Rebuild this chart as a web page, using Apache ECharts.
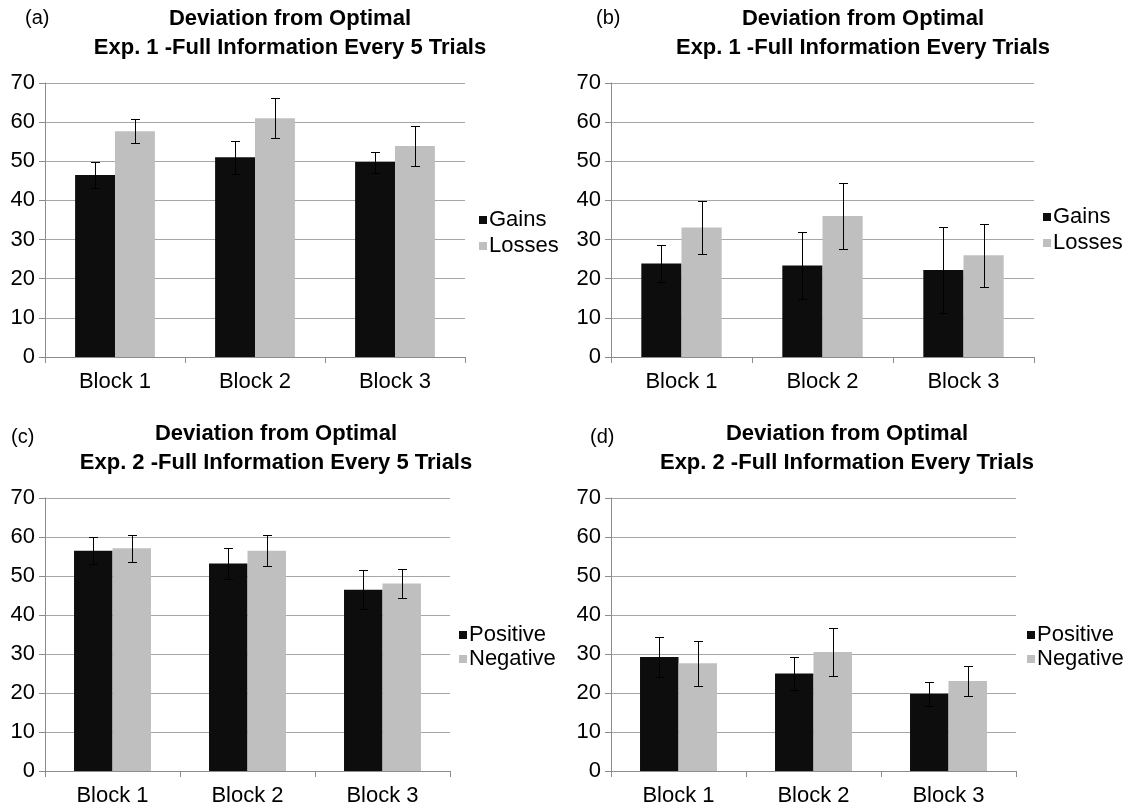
<!DOCTYPE html>
<html>
<head>
<meta charset="utf-8">
<script src="https://cdn.jsdelivr.net/npm/echarts@6/dist/echarts.min.js"></script>
<style>
html,body{margin:0;padding:0;background:#fff;}
#chart{width:1139px;height:809px;}
</style>
</head>
<body>
<div id="chart"></div>
<script>
const categories = ['Block 1', 'Block 2', 'Block 3'];
const yTicks = [0, 10, 20, 30, 40, 50, 60, 70];

const aGains = [46.5, 51.0, 49.8];
const aGainsErr = [3.4, 4.3, 2.7];
const aLosses = [57.7, 61.0, 53.9];
const aLossesErr = [3.0, 5.1, 5.1];

const bGains = [23.9, 23.4, 22.2];
const bGainsErr = [4.8, 8.5, 11.0];
const bLosses = [33.1, 36.0, 26.0];
const bLossesErr = [6.7, 8.45, 8.0];

const cPositive = [56.5, 53.2, 46.5];
const cPositiveErr = [3.4, 3.9, 5.0];
const cNegative = [57.1, 56.5, 48.1];
const cNegativeErr = [3.5, 3.95, 3.7];

const dPositive = [29.2, 25.0, 19.8];
const dPositiveErr = [5.1, 4.2, 3.1];
const dNegative = [27.6, 30.5, 23.1];
const dNegativeErr = [5.8, 6.25, 3.85];

const panelTitles = [
  'Deviation from Optimal\nExp. 1 -Full Information Every 5 Trials',
  'Deviation from Optimal\nExp. 1 -Full Information Every Trials',
  'Deviation from Optimal\nExp. 2 -Full Information Every 5 Trials',
  'Deviation from Optimal\nExp. 2 -Full Information Every Trials'
];
const panelLetters = ['(a)', '(b)', '(c)', '(d)'];

const FONT = '"Liberation Sans", Arial, Helvetica, sans-serif';
const DARK = '#0d0d0d';
const LIGHT = '#bfbfbf';
const GAP = 0.43;

const panels = [
  {grid: {left: 45, top: 83, width: 420, height: 274}, names: ['Gains', 'Losses'], vals: [aGains, aLosses], errs: [aGainsErr, aLossesErr],
   title: {x: 290, y: 4}, letter: {x: 25, y: 8}, legend: {x: 479, y: 209, gap: 4}},
  {grid: {left: 611, top: 83, width: 423, height: 274}, names: ['Gains', 'Losses'], vals: [bGains, bLosses], errs: [bGainsErr, bLossesErr],
   title: {x: 863, y: 4}, letter: {x: 596, y: 8}, legend: {x: 1043, y: 206, gap: 4}},
  {grid: {left: 45, top: 498, width: 405, height: 273}, names: ['Positive', 'Negative'], vals: [cPositive, cNegative], errs: [cPositiveErr, cNegativeErr],
   title: {x: 276, y: 419}, letter: {x: 11, y: 427}, legend: {x: 459, y: 624, gap: 2}},
  {grid: {left: 611, top: 498, width: 405, height: 273}, names: ['Positive', 'Negative'], vals: [dPositive, dNegative], errs: [dPositiveErr, dNegativeErr],
   title: {x: 847, y: 419}, letter: {x: 590, y: 427}, legend: {x: 1027, y: 624, gap: 2}}
];

const option = {
  backgroundColor: '#fff',
  animation: false,
  title: [], legend: [], grid: [], xAxis: [], yAxis: [], series: []
};

function errRenderer(side) {
  return function (params, api) {
    const cat = api.value(0), val = api.value(1), err = api.value(2);
    const cw = api.size([1, 0])[0];
    const bw = cw * (1 - GAP) / 2;
    const x = Math.round(api.coord([cat, val])[0] + side * bw / 2) + 0.5;
    const yt = Math.round(api.coord([cat, val + err])[1]) + 0.5;
    const yb = Math.round(api.coord([cat, val - err])[1]) + 0.5;
    const cap = 4.5;
    const st = {stroke: '#000', lineWidth: 1};
    return {type: 'group', children: [
      {type: 'line', shape: {x1: x, y1: yt, x2: x, y2: yb}, style: st},
      {type: 'line', shape: {x1: x - cap, y1: yt, x2: x + cap, y2: yt}, style: st},
      {type: 'line', shape: {x1: x - cap, y1: yb, x2: x + cap, y2: yb}, style: st}
    ]};
  };
}

panels.forEach((p, i) => {
  option.title.push({
    text: panelTitles[i], left: p.title.x, top: p.title.y, textAlign: 'center', padding: 0,
    textStyle: {fontFamily: FONT, fontSize: 22, fontWeight: 'bold', color: '#000', lineHeight: 29}
  });
  option.title.push({
    text: panelLetters[i], left: p.letter.x, top: p.letter.y, padding: 0,
    textStyle: {fontFamily: FONT, fontSize: 20, fontWeight: 'normal', color: '#000'}
  });
  option.grid.push(Object.assign({outerBoundsMode: 'none', containLabel: false}, p.grid));
  option.xAxis.push({
    type: 'category', gridIndex: i, data: categories,
    axisLine: {show: true, lineStyle: {color: '#8c8c8c', width: 1}},
    axisTick: {show: true, alignWithLabel: false, length: 6, lineStyle: {color: '#8c8c8c'}},
    axisLabel: {fontFamily: FONT, fontSize: 22, color: '#000', margin: 14},
    splitLine: {show: false}
  });
  option.yAxis.push({
    type: 'value', gridIndex: i, min: yTicks[0], max: yTicks[yTicks.length - 1], interval: 10,
    axisLine: {show: true, lineStyle: {color: '#8c8c8c', width: 1}},
    axisTick: {show: true, length: 6, lineStyle: {color: '#8c8c8c'}},
    axisLabel: {fontFamily: FONT, fontSize: 22, color: '#000', margin: 10},
    splitLine: {show: true, lineStyle: {color: '#a6a6a6', width: 1}}
  });
  option.legend.push({
    orient: 'vertical', left: p.legend.x, top: p.legend.y, padding: 0, itemGap: p.legend.gap,
    itemWidth: 8, itemHeight: 8, icon: 'rect', selectedMode: false,
    data: p.names.map(n => ({name: n})),
    textStyle: {fontFamily: FONT, fontSize: 22, color: '#000', padding: [0, 0, 0, -3]}
  });
  [0, 1].forEach(k => {
    option.series.push({
      type: 'bar', name: p.names[k], xAxisIndex: i, yAxisIndex: i,
      data: p.vals[k], barGap: '0%', barCategoryGap: (GAP * 100) + '%',
      itemStyle: {color: k === 0 ? DARK : LIGHT}, z: 2
    });
  });
  [0, 1].forEach(k => {
    option.series.push({
      type: 'custom', name: p.names[k] + ' error', xAxisIndex: i, yAxisIndex: i, z: 5,
      renderItem: errRenderer(k === 0 ? -1 : 1),
      data: categories.map((c, j) => [j, p.vals[k][j], p.errs[k][j]]),
      silent: true
    });
  });
});

const chart = echarts.init(document.getElementById('chart'), null, {renderer: 'canvas'});
chart.setOption(option);
</script>
</body>
</html>
